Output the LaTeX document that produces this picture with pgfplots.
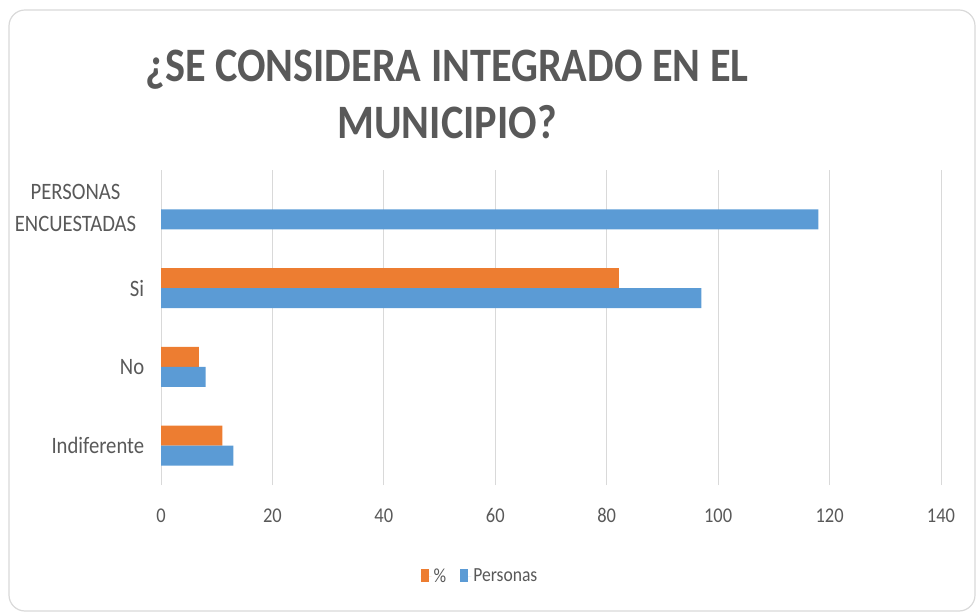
\documentclass[border=0pt]{standalone}
\usepackage{pgfplots}
\pgfplotsset{compat=1.18}
\usepackage{fontspec}
\setmainfont{Carlito}[FakeStretch=0.88]
\definecolor{barorange}{HTML}{ED7D31}
\definecolor{barblue}{HTML}{5B9BD5}
\definecolor{txtgray}{HTML}{595959}
\definecolor{gridgray}{HTML}{D9D9D9}
\begin{document}
\begin{tikzpicture}[x=1pt,y=1pt]
\useasboundingbox (0,0) rectangle (979,613);
\draw[gridgray, line width=1.2pt, rounded corners=16pt] (9,2) rectangle (975,603);
\node[anchor=base, text=txtgray, font=\fontsize{48}{57}\selectfont\bfseries] at (447,531) {¿SE CONSIDERA INTEGRADO EN EL};
\node[anchor=base, text=txtgray, font=\fontsize{48}{57}\selectfont\bfseries] at (447,474) {MUNICIPIO?};
\begin{axis}[
  at={(161pt,128pt)}, anchor=south west,
  scale only axis, width=780pt, height=315pt,
  xmin=0, xmax=140, ymin=-0.5, ymax=3.5,
  xtick={0,20,...,140},
  ytick={0,1,2,3},
  yticklabels={Indiferente,No,Si,{\begin{tabular}{@{}c@{\hspace{8pt}}}PERSONAS\\[2pt]ENCUESTADAS\end{tabular}}},
  xmajorgrids, major grid style={gridgray, line width=1pt},
  axis line style={draw=none},
  tick style={draw=none},
  /pgf/number format/assume math mode=true,
  xticklabel style={font=\fontsize{21}{25}\selectfont, text=txtgray, yshift=-20pt},
  yticklabel style={font=\fontsize{23.5}{30}\selectfont, text=txtgray, align=center, xshift=-9pt},
  xbar, bar width=20pt,
  legend style={at={(axis description cs:0.409,-0.289)}, anchor=center, draw=none, fill=none,
    legend columns=2, font=\fontsize{20}{24}\selectfont, text=txtgray,
    /tikz/every even column/.append style={column sep=12pt}},
  legend image code/.code={\fill[#1] (0pt,-6pt) rectangle (8pt,7pt); \path (0pt,0pt) -- (11pt,0pt);},
]
\addplot[fill=barorange, draw=none, bar shift=10pt] coordinates {(11.02,0) (6.78,1) (82.2,2)};
\addplot[fill=barblue, draw=none, bar shift=-10pt] coordinates {(13,0) (8,1) (97,2) (118,3)};
\legend{\%, Personas}
\end{axis}
\end{tikzpicture}
\end{document}
